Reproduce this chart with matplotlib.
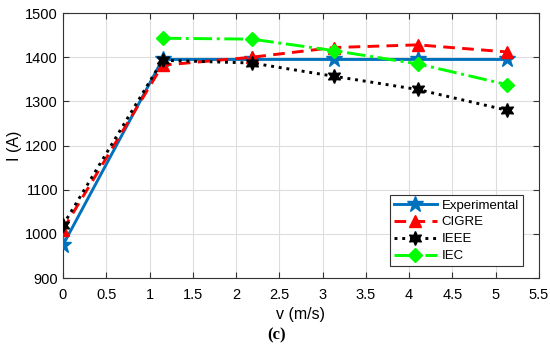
import matplotlib.pyplot as plt
import numpy as np

# dane
v_exp = [0, 1.15, 2.18, 3.13, 4.10, 5.13]
I_exp = [975, 1395, 1395, 1395, 1395, 1395]
I_cigre = [1010, 1382, 1400, 1422, 1428, 1412]
I_ieee = [1020, 1393, 1387, 1357, 1327, 1280]
v_iec = [1.15, 2.18, 3.13, 4.10, 5.13]
I_iec = [1443, 1441, 1415, 1385, 1338]

xticks = np.arange(0, 5.51, 0.5)
xlabels = ['0', '0.5', '1', '1.5', '2', '2.5', '3', '3.5', '4', '4.5', '5', '5.5']
yticks = [900, 1000, 1100, 1200, 1300, 1400, 1500]

plt.rcParams['font.family'] = ['Liberation Sans', 'DejaVu Sans']

# heksagram (gwiazda szescioramienna) jak w MATLABie
hexagram = (6, 1, 0)

fig = plt.figure(figsize=[5.5, 3.53], dpi=100)
ax = fig.add_axes([0.1145, 0.212, 0.8655, 0.751])

ax.plot(v_exp, I_exp, '-', color='#0072BD', linewidth=2.1, marker='*', markersize=12, label='Experimental', zorder=3)
ax.plot(v_exp, I_cigre, '--', color='#FF0000', linewidth=2.1, marker='^', markersize=8,
        markerfacecolor='#FF0000', label='CIGRE', zorder=4, dashes=(4, 2.5))
ax.plot(v_exp, I_ieee, ':', color='black', linewidth=2.1, marker=hexagram, markersize=10, label='IEEE', zorder=5)
ax.plot(v_iec, I_iec, '-.', color='#00FF00', linewidth=2.1, marker='D', markersize=7, label='IEC', zorder=6)

ax.set_xlim(0, 5.5)
ax.set_ylim(900, 1500)
ax.set_xticks(xticks)
ax.set_xticklabels(xlabels)
ax.set_yticks(yticks)
ax.tick_params(direction='in', top=True, right=True, labelsize=10.5, length=4, color='#333333')
ax.tick_params(axis='x', pad=7)
ax.grid(True, color='#DDDDDD', linewidth=0.8)
ax.set_axisbelow(True)
for s in ax.spines.values():
    s.set_color('#333333')
    s.set_linewidth(0.8)

ax.set_xlabel('v (m/s)', fontsize=11.5, labelpad=4)
ax.set_ylabel('I (A)', fontsize=11.5, labelpad=2)

leg = ax.legend(loc='lower right', bbox_to_anchor=(0.951, 0.246), bbox_transform=fig.transFigure,
                fontsize=9.5, fancybox=False, framealpha=1, edgecolor='#333333',
                borderaxespad=0, handlelength=3.3, handletextpad=0.35, labelspacing=0.35, borderpad=0.3)
leg.get_frame().set_linewidth(0.8)

fig.text(0.503, 0.05, '(c)', ha='center', va='center', fontsize=12, fontweight='bold', family='Liberation Serif')

plt.savefig('out.png', dpi=100)
